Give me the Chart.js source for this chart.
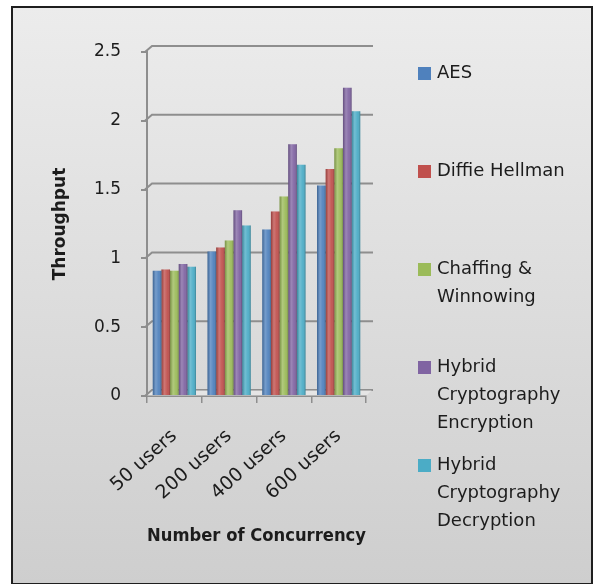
<!DOCTYPE html>
<html>
<head>
<meta charset="utf-8">
<script src="https://cdn.jsdelivr.net/npm/chart.js@4.4.0/dist/chart.umd.min.js"></script>
<style>
  html, body { margin: 0; padding: 0; background: #ffffff; }
  #wrap { position: relative; width: 599px; height: 584px; }
</style>
</head>
<body>
<div id="wrap"><canvas id="c" width="599" height="584"></canvas></div>
<script>
// Throughput per concurrency level for each cipher scheme
const categories = ['50 users', '200 users', '400 users', '600 users'];
const seriesNames = ['AES', 'Diffie Hellman', 'Chaffing & Winnowing',
  'Hybrid Cryptography Encryption', 'Hybrid Cryptography Decryption'];
const legendLines = [
  ['AES'],
  ['Diffie Hellman'],
  ['Chaffing &', 'Winnowing'],
  ['Hybrid', 'Cryptography', 'Encryption'],
  ['Hybrid', 'Cryptography', 'Decryption']
];
const aes           = [0.91, 1.05, 1.21, 1.53];
const diffieHellman = [0.92, 1.08, 1.34, 1.65];
const chaffing      = [0.91, 1.13, 1.45, 1.80];
const hybridEnc     = [0.96, 1.35, 1.83, 2.24];
const hybridDec     = [0.94, 1.24, 1.68, 2.07];
const yTicks = [0, 0.5, 1, 1.5, 2, 2.5];

const colors = ['#4f81bd', '#c0504d', '#9bbb59', '#8064a2', '#4bacc6'];
const seriesValues = [aes, diffieHellman, chaffing, hybridEnc, hybridDec];
const FONT = "'DejaVu Sans', 'Open Sans', sans-serif";
const GRID = '#8e8e8e';
const TEXT = '#1c1c1c';
const DEPTH_X = 6, DEPTH_Y = 6;   // offset of the back wall

// gray framed panel behind everything
const framePlugin = {
  id: 'frame',
  beforeDraw(chart) {
    const ctx = chart.ctx;
    ctx.save();
    ctx.fillStyle = '#ffffff';
    ctx.fillRect(0, 0, chart.width, chart.height);
    const g = ctx.createLinearGradient(0, 7, 0, 584);
    g.addColorStop(0, '#ececec');
    g.addColorStop(1, '#cecece');
    ctx.fillStyle = g;
    ctx.fillRect(12, 7, 580, 577);
    ctx.strokeStyle = '#1e1e1e';
    ctx.lineWidth = 2;
    ctx.strokeRect(12, 7, 580, 577);
    ctx.restore();
  }
};

// gridlines on the back wall plus the floor edge
const wallPlugin = {
  id: 'wall',
  beforeDatasetsDraw(chart) {
    const ctx = chart.ctx;
    const y = chart.scales.y;
    const a = chart.chartArea;
    ctx.save();
    ctx.strokeStyle = GRID;
    ctx.lineWidth = 2;
    yTicks.forEach(v => {
      const py = y.getPixelForValue(v);
      ctx.beginPath();
      ctx.moveTo(a.left - 2, py);
      ctx.lineTo(a.left + DEPTH_X - 1, py - DEPTH_Y);
      ctx.lineTo(a.right + DEPTH_X + 1, py - DEPTH_Y);
      ctx.stroke();
    });
    // floor
    const p0 = y.getPixelForValue(0);
    ctx.fillStyle = 'rgba(255,255,255,0.35)';
    ctx.beginPath();
    ctx.moveTo(a.left, p0);
    ctx.lineTo(a.left + DEPTH_X, p0 - DEPTH_Y);
    ctx.lineTo(a.right + DEPTH_X, p0 - DEPTH_Y);
    ctx.lineTo(a.right, p0);
    ctx.closePath();
    ctx.fill();
    ctx.restore();
  }
};

// cylinder-like shading laid over each bar
const shadePlugin = {
  id: 'shade',
  afterDatasetsDraw(chart) {
    const ctx = chart.ctx;
    ctx.save();
    chart.data.datasets.forEach((ds, di) => {
      chart.getDatasetMeta(di).data.forEach(bar => {
        const left = bar.x - bar.width / 2;
        const g = ctx.createLinearGradient(left, 0, left + bar.width, 0);
        g.addColorStop(0, 'rgba(0,0,0,0.22)');
        g.addColorStop(0.35, 'rgba(255,255,255,0.22)');
        g.addColorStop(0.7, 'rgba(255,255,255,0.05)');
        g.addColorStop(1, 'rgba(0,0,0,0.25)');
        ctx.fillStyle = g;
        ctx.fillRect(left, bar.y, bar.width, bar.base - bar.y);
      });
    });
    ctx.restore();
  }
};

// legend column on the right, one block per series
const legendPlugin = {
  id: 'sideLegend',
  afterDraw(chart) {
    const ctx = chart.ctx;
    ctx.save();
    ctx.font = "18px " + FONT;
    ctx.textBaseline = 'middle';
    ctx.textAlign = 'left';
    const x0 = 418, startY = 73, step = 98, lineH = 28;
    legendLines.forEach((lines, i) => {
      const y = startY + i * step;
      ctx.fillStyle = colors[i];
      ctx.fillRect(x0, y - 6, 13, 13);
      ctx.fillStyle = TEXT;
      lines.forEach((t, k) => ctx.fillText(t, x0 + 19, y + k * lineH));
    });
    ctx.restore();
  }
};

new Chart(document.getElementById('c'), {
  type: 'bar',
  data: {
    labels: categories,
    datasets: seriesNames.map((name, i) => ({
      label: name,
      data: seriesValues[i],
      backgroundColor: colors[i],
      borderWidth: 0,
      barPercentage: 1.0,
      categoryPercentage: 0.79
    }))
  },
  options: {
    responsive: false,
    animation: false,
    layout: { padding: { top: 52, right: 233, bottom: 0, left: 0 } },
    plugins: { legend: { display: false }, tooltip: { enabled: false } },
    scales: {
      x: {
        grid: { display: true, drawOnChartArea: false, drawTicks: true, tickLength: 7,
                color: GRID, lineWidth: 1.5, offset: true },
        border: { color: GRID, width: 2 },
        ticks: { minRotation: 42, maxRotation: 42, color: TEXT, padding: 22,
                 font: { family: FONT, size: 19 } },
        title: { display: true, text: 'Number of Concurrency', color: TEXT,
                 font: { family: FONT, size: 17, weight: 'bold' }, padding: { top: 0, bottom: 37 } },
        afterFit(s) { s.height = 188; }
      },
      y: {
        min: 0, max: 2.5,
        afterBuildTicks(s) { s.ticks = yTicks.map(v => ({ value: v })); },
        grid: { drawOnChartArea: false, color: GRID, lineWidth: 2, tickLength: 6 },
        border: { color: GRID, width: 2 },
        ticks: { color: TEXT, padding: 20, font: { family: FONT, size: 17 },
                 callback: v => String(v) },
        title: { display: true, text: 'Throughput', color: TEXT,
                 font: { family: FONT, size: 17, weight: 'bold' }, padding: { top: 50, bottom: 0 } },
        afterFit(s) { s.width = 147; }
      }
    }
  },
  plugins: [framePlugin, wallPlugin, shadePlugin, legendPlugin]
});
</script>
</body>
</html>
